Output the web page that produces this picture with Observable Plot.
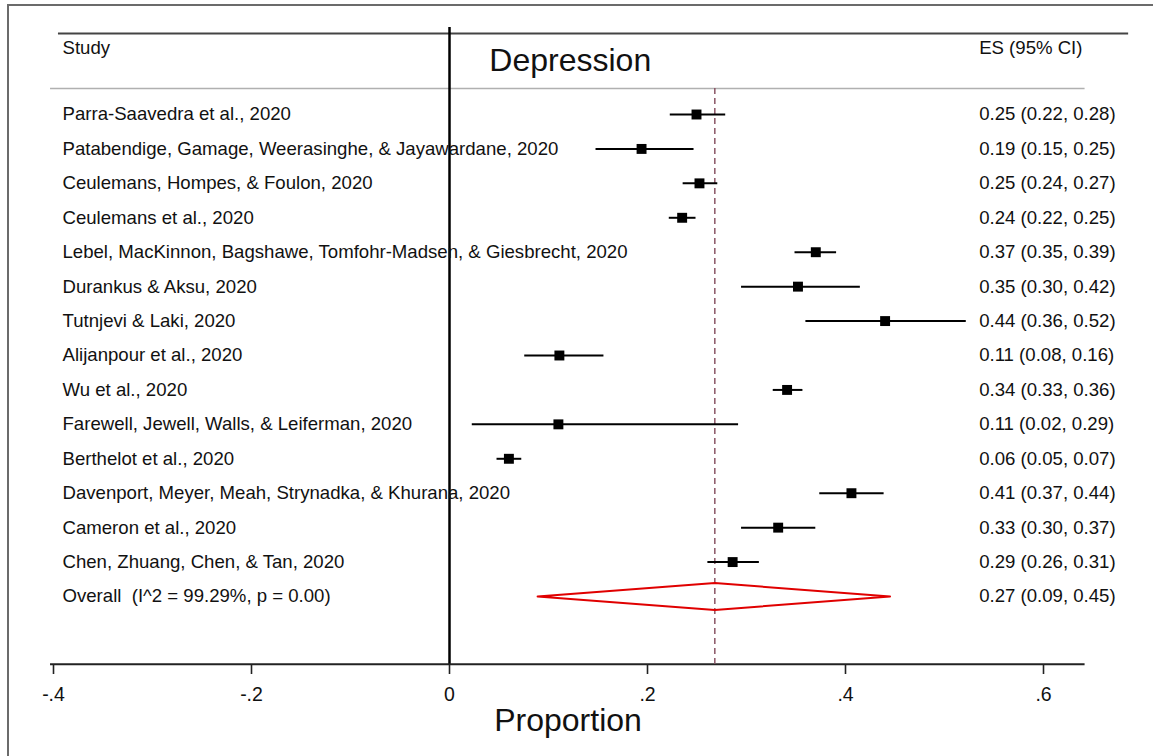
<!DOCTYPE html>
<html>
<head>
<meta charset="utf-8">
<script src="https://cdn.jsdelivr.net/npm/d3@7"></script>
<script src="https://cdn.jsdelivr.net/npm/@observablehq/plot@0.6"></script>
<style>
  html, body { margin: 0; padding: 0; background: #fff; }
  #wrap { position: relative; width: 1153px; height: 756px; overflow: hidden; }
  #border { position: absolute; left: 7px; top: 4px; width: 1150px; height: 760px;
            border-left: 2px solid #6b6b6b; border-top: 2px solid #6b6b6b; }
  #chart { position: absolute; left: 0; top: 0; }
</style>
</head>
<body>
<div id="wrap"><div id="border"></div><div id="chart"></div></div>
<script>
// ---- data ----
const studies = [
  "Parra-Saavedra et al., 2020",
  "Patabendige, Gamage, Weerasinghe, & Jayawardane, 2020",
  "Ceulemans, Hompes, & Foulon, 2020",
  "Ceulemans et al., 2020",
  "Lebel, MacKinnon, Bagshawe, Tomfohr-Madsen, & Giesbrecht, 2020",
  "Durankus & Aksu, 2020",
  "Tutnjevi & Laki, 2020",
  "Alijanpour et al., 2020",
  "Wu et al., 2020",
  "Farewell, Jewell, Walls, & Leiferman, 2020",
  "Berthelot et al., 2020",
  "Davenport, Meyer, Meah, Strynadka, & Khurana, 2020",
  "Cameron et al., 2020",
  "Chen, Zhuang, Chen, & Tan, 2020"
];
const es = [0.2495, 0.194, 0.2525, 0.235, 0.370, 0.352, 0.440, 0.111, 0.341, 0.110, 0.060, 0.406, 0.332, 0.286];
const lo = [0.223, 0.148, 0.236, 0.222, 0.349, 0.295, 0.360, 0.076, 0.327, 0.023, 0.048, 0.374, 0.295, 0.261];
const hi = [0.279, 0.247, 0.271, 0.249, 0.391, 0.415, 0.522, 0.156, 0.357, 0.292, 0.073, 0.439, 0.370, 0.313];
const esText = [
  "0.25 (0.22, 0.28)", "0.19 (0.15, 0.25)", "0.25 (0.24, 0.27)", "0.24 (0.22, 0.25)",
  "0.37 (0.35, 0.39)", "0.35 (0.30, 0.42)", "0.44 (0.36, 0.52)", "0.11 (0.08, 0.16)",
  "0.34 (0.33, 0.36)", "0.11 (0.02, 0.29)", "0.06 (0.05, 0.07)", "0.41 (0.37, 0.44)",
  "0.33 (0.30, 0.37)", "0.29 (0.26, 0.31)"
];
const overallLabel = "Overall\u00a0 (I^2 = 99.29%, p = 0.00)";
const overallES = 0.268, overallLo = 0.089, overallHi = 0.445;
const overallText = "0.27 (0.09, 0.45)";
const tickValues = [-0.4, -0.2, 0, 0.2, 0.4, 0.6];
const tickLabels = ["-.4", "-.2", "0", ".2", ".4", ".6"];
const title = "Depression";
const xLabel = "Proportion";
const headStudy = "Study";
const headES = "ES (95% CI)";

// ---- layout helpers (row units / data units) ----
const nRows = studies.length;           // overall sits at row index nRows
const axisRow = 15.97, headerTopRow = -2.35, headerRuleRow = -0.755, zeroTopRow = -2.53, headerTextRow = -1.92, titleRow = -1.57;
const esTextX = 0.535, titleX = 0.122;
const diamondHalf = 0.39;

const rows = studies.map((s, i) => ({i, study: s, es: es[i], lo: lo[i], hi: hi[i], text: esText[i]}));
const labelRows = rows.map(r => ({i: r.i, study: r.study, text: r.text}))
  .concat([{i: nRows, study: overallLabel, text: overallText}]);
const diamond = [
  {x: overallLo, y: nRows}, {x: overallES, y: nRows - diamondHalf},
  {x: overallHi, y: nRows}, {x: overallES, y: nRows + diamondHalf},
  {x: overallLo, y: nRows}
];
const ticks = tickValues.map((v, k) => ({v, label: tickLabels[k]}));

const font = "Liberation Sans, Arial, Helvetica, sans-serif";
const fs = 18.6;
const chart = Plot.plot({
  width: 1153, height: 756,
  marginLeft: 50, marginRight: 68, marginTop: 0, marginBottom: 92,
  x: {domain: [-0.4, 0.6], range: [53, 1043]},
  y: {domain: [0, nRows], range: [114, 596], axis: null},
  style: {fontFamily: font, background: "transparent", color: "#111"},
  marks: [
    // header rules
    Plot.ruleY([headerTopRow], {x1: -0.395, x2: 0.686, stroke: "#444", strokeWidth: 2}),
    Plot.ruleY([headerRuleRow], {x1: -0.403, x2: 0.642, stroke: "#b0b0b0", strokeWidth: 1.5}),
    // x axis line + ticks
    Plot.ruleY([axisRow], {x1: -0.403, x2: 0.642, stroke: "#222", strokeWidth: 2}),
    Plot.axisX(tickValues, {anchor: "bottom", tickFormat: () => "",
      tickSize: 10, tickPadding: 14, stroke: "#222", strokeWidth: 1.6, label: null}),
    Plot.text(ticks, {x: "v", text: "label", frameAnchor: "bottom", lineAnchor: "top", dy: 23, fontSize: 19.5, fill: "#111"}),
    // zero line
    Plot.ruleX([0], {y1: zeroTopRow, y2: axisRow, stroke: "#000", strokeWidth: 2.5}),
    // overall dashed line
    Plot.ruleX([overallES], {y1: headerRuleRow, y2: axisRow, stroke: "#8a5565", strokeWidth: 1.5, strokeDasharray: "6,4"}),
    // CIs and point estimates
    Plot.ruleY(rows, {y: "i", x1: "lo", x2: "hi", stroke: "#000", strokeWidth: 2}),
    Plot.dot(rows, {x: "es", y: "i", symbol: "square", r: 5.6, fill: "#000", stroke: null}),
    // overall diamond
    Plot.line(diamond, {x: "x", y: "y", stroke: "#e00000", strokeWidth: 2, curve: "linear"}),
    // texts
    Plot.text(labelRows, {y: "i", text: "study", frameAnchor: "left", dx: 12, textAnchor: "start", fontSize: fs, fill: "#111"}),
    Plot.text(labelRows, {y: "i", x: () => esTextX, text: "text", textAnchor: "start", fontSize: fs, fill: "#111"}),
    Plot.text([headStudy], {y: () => headerTextRow, text: d => d, frameAnchor: "left", dx: 12, textAnchor: "start", fontSize: fs, fill: "#111"}),
    Plot.text([headES], {y: () => headerTextRow, x: () => esTextX, text: d => d, textAnchor: "start", fontSize: fs, fill: "#111"}),
    Plot.text([title], {y: () => titleRow, x: () => titleX, text: d => d, textAnchor: "middle", fontSize: 32, fill: "#111"}),
    Plot.text([xLabel], {frameAnchor: "bottom", text: d => d, lineAnchor: "bottom", dy: 66, fontSize: 32, fill: "#111"})
  ]
});
document.getElementById("chart").appendChild(chart);
</script>
</body>
</html>
